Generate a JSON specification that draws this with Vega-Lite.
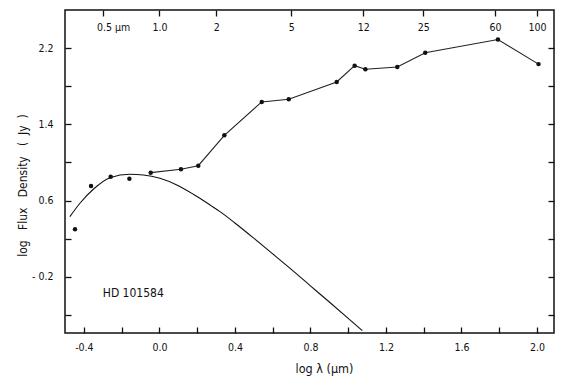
{
  "$schema": "https://vega.github.io/schema/vega-lite/v6.json",
  "width": 489,
  "height": 323,
  "autosize": {"type": "none"},
  "padding": {"left": 65, "top": 10, "right": 16, "bottom": 44},
  "background": "white",
  "config": {
    "font": "DejaVu Sans Condensed",
    "view": {"stroke": "#111", "strokeWidth": 1.5},
    "axis": {
      "domain": false,
      "grid": false,
      "labelFont": "DejaVu Sans Condensed",
      "labelFontSize": 10.5,
      "labelColor": "#111",
      "tickColor": "#111",
      "tickWidth": 1.3,
      "titleFont": "DejaVu Sans Condensed",
      "titleFontSize": 12,
      "titleFontWeight": "normal",
      "titleColor": "#111",
      "labelOverlap": false,
      "labelFlush": false
    }
  },
  "datasets": {
    "phot": [
      {"logl": -0.447, "logf": 0.299, "joined": false},
      {"logl": -0.362, "logf": 0.753, "joined": false},
      {"logl": -0.258, "logf": 0.851, "joined": false},
      {"logl": -0.159, "logf": 0.830, "joined": false},
      {"logl": -0.046, "logf": 0.893, "joined": true},
      {"logl": 0.114, "logf": 0.928, "joined": true},
      {"logl": 0.206, "logf": 0.966, "joined": true},
      {"logl": 0.344, "logf": 1.285, "joined": true},
      {"logl": 0.542, "logf": 1.635, "joined": true},
      {"logl": 0.685, "logf": 1.663, "joined": true},
      {"logl": 0.939, "logf": 1.845, "joined": true},
      {"logl": 1.034, "logf": 2.016, "joined": true},
      {"logl": 1.091, "logf": 1.978, "joined": true},
      {"logl": 1.260, "logf": 2.002, "joined": true},
      {"logl": 1.408, "logf": 2.152, "joined": true},
      {"logl": 1.793, "logf": 2.290, "joined": true},
      {"logl": 2.008, "logf": 2.032, "joined": true}
    ],
    "model": [
      {"logl": -0.474, "logf": 0.431},
      {"logl": -0.421, "logf": 0.572},
      {"logl": -0.350, "logf": 0.719},
      {"logl": -0.262, "logf": 0.840},
      {"logl": -0.156, "logf": 0.876},
      {"logl": -0.085, "logf": 0.869},
      {"logl": 0.003, "logf": 0.834},
      {"logl": 0.092, "logf": 0.764},
      {"logl": 0.180, "logf": 0.666},
      {"logl": 0.268, "logf": 0.554},
      {"logl": 0.321, "logf": 0.484},
      {"logl": 0.400, "logf": 0.365},
      {"logl": 0.500, "logf": 0.205},
      {"logl": 0.600, "logf": 0.040},
      {"logl": 0.700, "logf": -0.125},
      {"logl": 0.800, "logf": -0.295},
      {"logl": 0.900, "logf": -0.465},
      {"logl": 1.000, "logf": -0.636},
      {"logl": 1.075, "logf": -0.765}
    ],
    "label": [
      {"logl": -0.300, "logf": -0.37, "text": "HD 101584"}
    ]
  },
  "layer": [
    {
      "data": {"name": "model"},
      "mark": {"type": "line", "interpolate": "monotone", "color": "#111", "strokeWidth": 1.1},
      "encoding": {
        "x": {
          "field": "logl", "type": "quantitative",
          "scale": {"domain": [-0.5, 2.09], "nice": false, "zero": false},
          "axis": {
            "orient": "bottom",
            "values": [-0.4, -0.2, 0, 0.2, 0.4, 0.6, 0.8, 1.0, 1.2, 1.4, 1.6, 1.8, 2.0],
            "tickSize": -6,
            "labelPadding": 15,
            "labelExpr": "round(datum.value*10) % 4 == 0 ? (datum.value < 0 ? '-' + format(-datum.value, '.1f') : format(datum.value, '.1f')) : ''",
            "title": "log λ (μm)",
            "titleFontSize": 12.5,
            "titleX": 259,
            "titleY": 29,
            "titleAlign": "center",
            "titleBaseline": "top"
          }
        },
        "y": {
          "field": "logf", "type": "quantitative",
          "scale": {"domain": [-0.79, 2.6], "nice": false, "zero": false},
          "axis": {
            "orient": "left",
            "values": [-0.6, -0.2, 0.2, 0.6, 1.0, 1.4, 1.8, 2.2],
            "tickSize": -6,
            "labelPadding": 18,
            "labelExpr": "(round(datum.value*10) + 2) % 8 == 0 ? (datum.value < 0 ? '- ' + format(-datum.value, '.1f') : format(datum.value, '.1f')) : ''",
            "title": "log\u00a0\u00a0\u00a0Flux\u00a0\u00a0\u00a0Density\u00a0\u00a0\u00a0(\u00a0\u00a0Jy\u00a0\u00a0)",
            "titleAngle": -90,
            "titleX": -43,
            "titleY": 175,
            "titleAlign": "center",
            "titleBaseline": "middle"
          }
        }
      }
    },
    {
      "data": {"name": "phot"},
      "transform": [{"filter": "datum.joined"}],
      "mark": {"type": "line", "color": "#222", "strokeWidth": 1.1},
      "encoding": {
        "x": {"field": "logl", "type": "quantitative", "scale": {"domain": [-0.5, 2.09], "nice": false, "zero": false}, "axis": null},
        "y": {"field": "logf", "type": "quantitative", "scale": {"domain": [-0.79, 2.6], "nice": false, "zero": false}, "axis": null}
      }
    },
    {
      "data": {"name": "phot"},
      "mark": {"type": "circle", "color": "#111", "opacity": 1, "size": 20},
      "encoding": {
        "x": {
          "field": "logl", "type": "quantitative",
          "scale": {"domain": [-0.5, 2.09], "nice": false, "zero": false},
          "axis": {
            "orient": "top",
            "values": [-0.30103, 0, 0.30103, 0.69897, 1.07918, 1.39794, 1.77815, 2.0],
            "tickSize": -6,
            "labelPadding": -16,
            "labelExpr": "datum.value < -0.2 ? '0.5 μm' : (datum.value < 0.1 ? '1.0' : format(round(pow(10, datum.value)), 'd'))",
            "labelAlign": {"condition": {"test": "datum.value < -0.2", "value": "left"}, "value": "center"},
            "labelOffset": {"condition": {"test": "datum.value < -0.2", "value": -6}, "value": 0},
            "title": null
          }
        },
        "y": {
          "field": "logf", "type": "quantitative",
          "scale": {"domain": [-0.79, 2.6], "nice": false, "zero": false},
          "axis": {
            "orient": "right",
            "values": [-0.6, -0.2, 0.2, 0.6, 1.0, 1.4, 1.8, 2.2],
            "tickSize": -6,
            "labels": false,
            "title": null
          }
        }
      }
    },
    {
      "data": {"name": "label"},
      "mark": {"type": "text", "align": "left", "baseline": "middle", "fontSize": 12, "color": "#111", "font": "DejaVu Sans Condensed"},
      "encoding": {
        "x": {"field": "logl", "type": "quantitative", "scale": {"domain": [-0.5, 2.09], "nice": false, "zero": false}, "axis": null},
        "y": {"field": "logf", "type": "quantitative", "scale": {"domain": [-0.79, 2.6], "nice": false, "zero": false}, "axis": null},
        "text": {"field": "text"}
      }
    }
  ],
  "resolve": {"axis": {"x": "independent", "y": "independent"}}
}
